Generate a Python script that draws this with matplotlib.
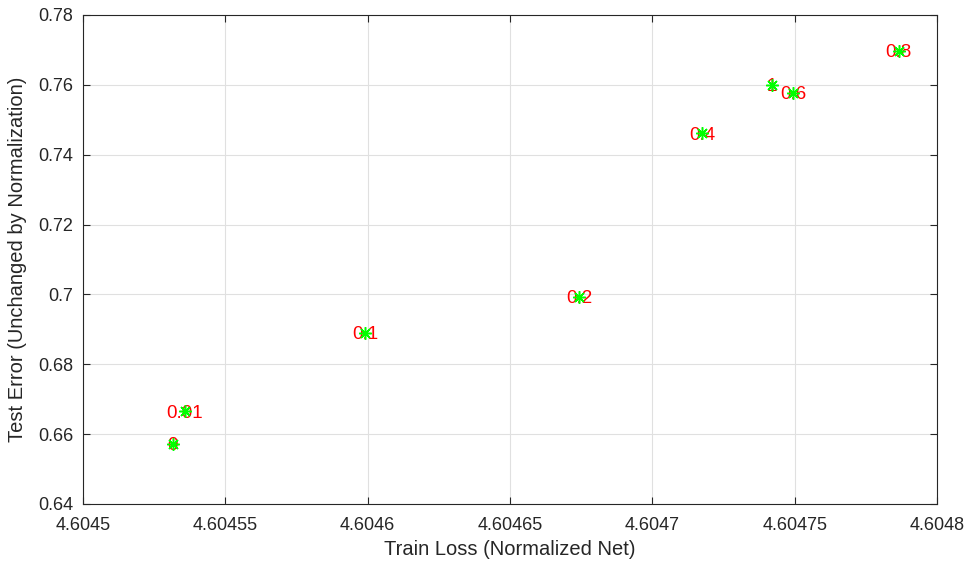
import matplotlib
matplotlib.use("Agg")
import matplotlib.pyplot as plt

# regularisation strength labels, train loss of the normalized net, test error
labels = ["0", "0.01", "0.1", "0.2", "0.4", "0.6", "0.8", "1"]
train_loss = [4.6045316, 4.6045358, 4.6045990, 4.6046742, 4.6047174, 4.6047494, 4.6047866, 4.6047420]
test_error = [0.6572, 0.6666, 0.6890, 0.6993, 0.7462, 0.7577, 0.7698, 0.7600]

plt.rcParams['font.family'] = ['Liberation Sans', 'DejaVu Sans']

fig = plt.figure(figsize=(9.67, 5.67), dpi=100)
ax = fig.add_axes([83 / 967, 1 - 504 / 567, 854 / 967, 489 / 567])

for x, y, lab in zip(train_loss, test_error, labels):
    ax.text(x, y, lab, color='red', fontsize=13.5, ha='center', va='center_baseline', zorder=3)
ax.plot(train_loss, test_error, linestyle='none', marker=(8, 2, 0),
        markersize=9, markeredgewidth=1.1, color=(0, 1, 0), zorder=4)

ax.set_xlim(4.6045, 4.6048)
ax.set_ylim(0.64, 0.78)
xt = [4.6045, 4.60455, 4.6046, 4.60465, 4.6047, 4.60475, 4.6048]
ax.set_xticks(xt)
ax.set_xticklabels(["4.6045", "4.60455", "4.6046", "4.60465", "4.6047", "4.60475", "4.6048"])
yt = [0.64, 0.66, 0.68, 0.70, 0.72, 0.74, 0.76, 0.78]
ax.set_yticks(yt)
ax.set_yticklabels(["0.64", "0.66", "0.68", "0.7", "0.72", "0.74", "0.76", "0.78"])

ax.grid(True, color='#e0e0e0', linewidth=0.8)
ax.set_axisbelow(True)
ax.tick_params(direction='in', top=True, right=True, labelsize=13, length=5, colors='#262626')
ax.tick_params(axis='x', pad=9)
ax.tick_params(axis='y', pad=7)
for s in ax.spines.values():
    s.set_color('#262626')
    s.set_linewidth(0.8)

ax.set_xlabel("Train Loss (Normalized Net)", fontsize=14.5, color='#262626', labelpad=5)
ax.set_ylabel("Test Error (Unchanged by Normalization)", fontsize=14.5, color='#262626', labelpad=8)

fig.savefig("out.png", dpi=100)
